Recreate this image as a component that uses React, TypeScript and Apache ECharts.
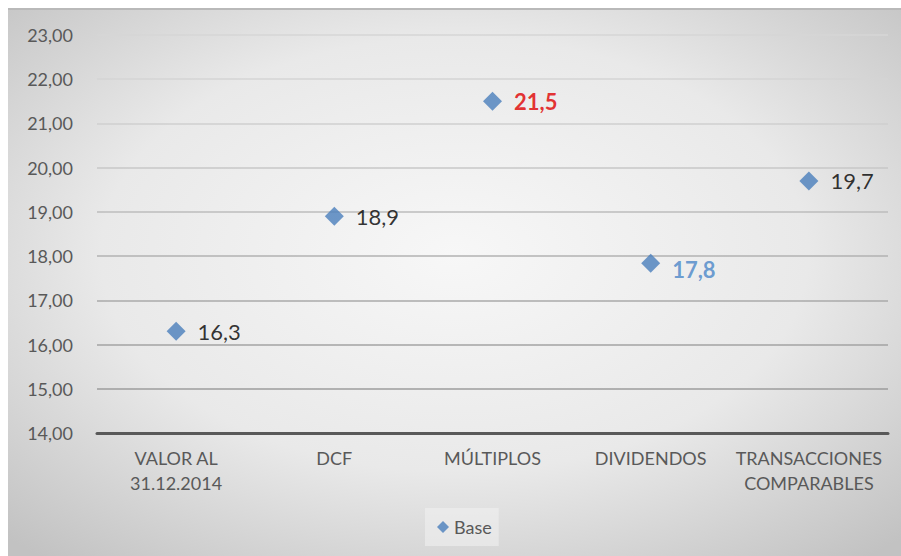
import React, { useEffect, useRef } from "react";
import * as echarts from "echarts";

const categories: string[] = [
  "VALOR AL\n31.12.2014",
  "DCF",
  "MÚLTIPLOS",
  "DIVIDENDOS",
  "TRANSACCIONES\nCOMPARABLES",
];
const baseValues: number[] = [16.3, 18.9, 21.5, 17.84, 19.7];
const yTicks: number[] = [14, 15, 16, 17, 18, 19, 20, 21, 22, 23];
const seriesName = "Base";

const FONT = 'Lato, "Open Sans", sans-serif';

export default function App() {
  const ref = useRef<HTMLDivElement>(null);
  useEffect(() => {
    document.documentElement.style.overflow = "hidden";
    document.body.style.overflow = "hidden";
    if (!ref.current) return;
    const chart = echarts.init(ref.current, undefined, { renderer: "svg" });
    const fmt = (v: number) => v.toFixed(1).replace(".", ",");
    const data = baseValues.map((v, i) => {
      const item: any = { value: v };
      if (i === 2) {
        item.label = { color: "#e00000", fontWeight: "bold" };
      } else if (i === 3) {
        item.label = { color: "#4a86c8", fontWeight: "bold", offset: [0, 6] };
      }
      return item;
    });
    chart.setOption({
      animation: false,
      backgroundColor: new echarts.graphic.RadialGradient(0.5, 0.45, 0.72, [
        { offset: 0, color: "#f7f7f7" },
        { offset: 0.55, color: "#e9e9e9" },
        { offset: 1, color: "#c2c2c2" },
      ]),
      graphic: [
        {
          type: "line",
          shape: { x1: 0, y1: 1, x2: 893, y2: 1 },
          style: { stroke: "#b9b9b9", lineWidth: 2 },
          silent: true,
        },
      ],
      grid: { left: 89, top: 27, width: 791, height: 398 },
      legend: {
        data: [seriesName],
        left: 417,
        top: 500,
        icon: "diamond",
        itemWidth: 12,
        itemHeight: 12,
        itemGap: 5,
        padding: [10, 7, 10, 12],
        backgroundColor: "rgba(240,240,240,0.6)",
        textStyle: { fontSize: 18, color: "#595959", fontFamily: FONT },
      },
      xAxis: {
        type: "category",
        data: categories,
        boundaryGap: true,
        axisTick: { show: false },
        axisLine: { show: true, lineStyle: { color: "#595959", width: 3 } },
        axisLabel: {
          color: "#595959",
          fontSize: 18,
          fontFamily: FONT,
          lineHeight: 25,
          margin: 12,
          interval: 0,
        },
      },
      yAxis: {
        type: "value",
        min: yTicks[0],
        max: yTicks[yTicks.length - 1],
        interval: 1,
        axisLine: { show: false },
        axisTick: { show: false },
        axisLabel: {
          color: "#595959",
          fontSize: 18,
          fontFamily: FONT,
          margin: 24,
          formatter: (v: number) => v.toFixed(2).replace(".", ","),
        },
        splitLine: {
          show: true,
          lineStyle: {
            width: 1.5,
            color: [
              "#595959",
              "#9c9c9c",
              "#a3a3a3",
              "#aaaaaa",
              "#b2b2b2",
              "#bdbdbd",
              "#c7c7c7",
              "#cfcfcf",
              "#d4d4d4",
              "#d6d6d6",
            ],
          },
        },
      },
      series: [
        {
          name: seriesName,
          type: "scatter",
          data,
          symbol: "diamond",
          symbolSize: [19, 19],
          itemStyle: { color: "#4a7ebb" },
          label: {
            show: true,
            position: "right",
            distance: 12,
            fontSize: 22,
            fontFamily: FONT,
            color: "#000000",
            formatter: (p: any) => fmt(p.value),
          },
        },
      ],
    });
    return () => chart.dispose();
  }, []);
  return (
    <div
      ref={ref}
      style={{ position: "absolute", left: 8, top: 8, width: 893, height: 548 }}
    />
  );
}
